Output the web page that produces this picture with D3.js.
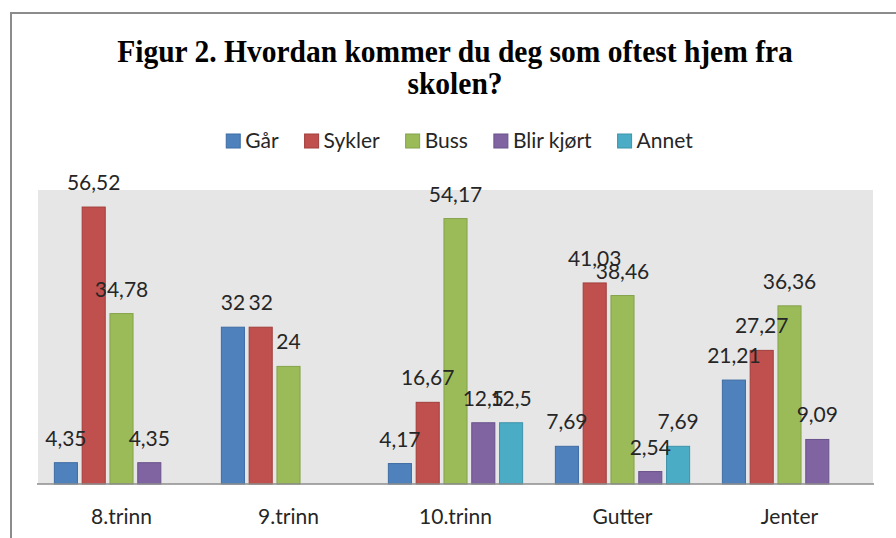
<!DOCTYPE html>
<html>
<head>
<meta charset="utf-8">
<script src="https://cdn.jsdelivr.net/npm/d3@7"></script>
<style>
	html, body { margin: 0; padding: 0; background: #fff; }
	svg { display: block; }
	.lbl { font-family: Lato, 'Open Sans', sans-serif; font-size: 21px; fill: #262626; }
	.title { font-family: 'Liberation Serif', 'Times New Roman', serif; font-weight: bold; font-size: 32px; fill: #000; }
</style>
</head>
<body>
<svg id="chart" width="896" height="538"></svg>
<script>
var categories = ['8.trinn', '9.trinn', '10.trinn', 'Gutter', 'Jenter'];
var seriesNames = ['Går', 'Sykler', 'Buss', 'Blir kjørt', 'Annet'];
var gaar = [4.35, 32, 4.17, 7.69, 21.21];
var sykler = [56.52, 32, 16.67, 41.03, 27.27];
var buss = [34.78, 24, 54.17, 38.46, 36.36];
var blirKjort = [4.35, null, 12.5, 2.54, 9.09];
var annet = [null, null, 12.5, 7.69, null];
var titleLines = ['Figur 2. Hvordan kommer du deg som oftest hjem fra', 'skolen?'];

(function() {

	'use strict';

	var svg = d3.select('#chart'),
		colors = ['#4f81bd', '#c0504d', '#9bbb59', '#8064a2', '#4bacc6'],
		strokes = ['#3d6ca3', '#a23e3b', '#84a24a', '#6a528a', '#3c93aa'],
		values = [gaar, sykler, buss, blirKjort, annet],
		plot = { left: 38, right: 873, top: 190, bottom: 484 };

	// frame round the chart
	svg.append('path')
		.attr('d', 'M11,538 V13 H896')
		.attr('fill', 'none')
		.attr('stroke', '#8c8c8c')
		.attr('stroke-width', 2);

	// title, squeezed to the width it has in the picture
	var title = svg.append('g');
	titleLines.forEach(function(line, i) {
		title.append('text')
			.attr('class', 'title')
			.attr('x', 0)
			.attr('y', 62 + i * 32)
			.attr('text-anchor', 'middle')
			.text(line);
	});
	var natural = title.select('text').node().getComputedTextLength(),
		sx = 676 / natural;
	title.attr('transform', 'translate(455,0) scale(' + sx + ',1)');

	// legend
	var legend = svg.append('g'),
		gap = 26,
		lx = 0;
	seriesNames.forEach(function(name, i) {
		var item = legend.append('g').attr('transform', 'translate(' + lx + ',0)');
		item.append('rect')
			.attr('x', 0)
			.attr('y', 134)
			.attr('width', 14)
			.attr('height', 14)
			.attr('fill', colors[i])
			.attr('stroke', strokes[i]);
		var t = item.append('text')
			.attr('class', 'lbl')
			.attr('x', 19)
			.attr('y', 148)
			.text(name);
		lx += 19 + t.node().getComputedTextLength() + gap;
	});
	lx -= gap;
	legend.attr('transform', 'translate(' + (459.5 - lx / 2) + ',0)');

	// plot background
	svg.append('rect')
		.attr('x', plot.left)
		.attr('y', plot.top)
		.attr('width', plot.right - plot.left)
		.attr('height', plot.bottom - plot.top)
		.attr('fill', '#e6e6e6');

	var x0 = d3.scaleBand()
			.domain(categories)
			.range([plot.left, plot.right])
			.paddingInner(0.196)
			.paddingOuter(0.098),
		x1 = d3.scaleBand()
			.domain(seriesNames)
			.range([0, x0.bandwidth()])
			.paddingInner(0.17),
		y = d3.scaleLinear()
			.domain([0, 60])
			.range([plot.bottom, plot.top]);

	var rows = [];
	categories.forEach(function(c, ci) {
		seriesNames.forEach(function(s, si) {
			var v = values[si][ci];
			if (v !== null) {
				rows.push({ cat: c, series: s, idx: si, value: v });
			}
		});
	});

	// bars
	svg.append('g')
		.selectAll('rect')
		.data(rows)
		.enter()
		.append('rect')
		.attr('x', function(d) { return x0(d.cat) + x1(d.series); })
		.attr('y', function(d) { return y(d.value); })
		.attr('width', x1.bandwidth())
		.attr('height', function(d) { return y(0) - y(d.value); })
		.attr('fill', function(d) { return colors[d.idx]; })
		.attr('stroke', function(d) { return strokes[d.idx]; })
		.attr('stroke-width', 1);

	// value labels
	svg.append('g')
		.selectAll('text')
		.data(rows)
		.enter()
		.append('text')
		.attr('class', 'lbl')
		.attr('text-anchor', 'middle')
		.attr('x', function(d) { return x0(d.cat) + x1(d.series) + x1.bandwidth() / 2; })
		.attr('y', function(d) { return y(d.value) - 17; })
		.text(function(d) { return String(d.value).replace('.', ','); });

	// category axis
	var xAxis = d3.axisBottom(x0).tickSize(0).tickPadding(0);
	var ax = svg.append('g')
		.attr('transform', 'translate(0,' + plot.bottom + ')')
		.call(xAxis);
	ax.select('.domain')
		.attr('d', 'M' + (plot.left - 1) + ',0H' + (plot.right + 1))
		.attr('stroke', '#8c8c8c')
		.attr('stroke-width', 1.5);
	ax.selectAll('.tick text')
		.attr('class', 'lbl')
		.attr('dy', null)
		.attr('y', 40)
		.attr('font-size', null)
		.attr('font-family', null);

})();
</script>
</body>
</html>
